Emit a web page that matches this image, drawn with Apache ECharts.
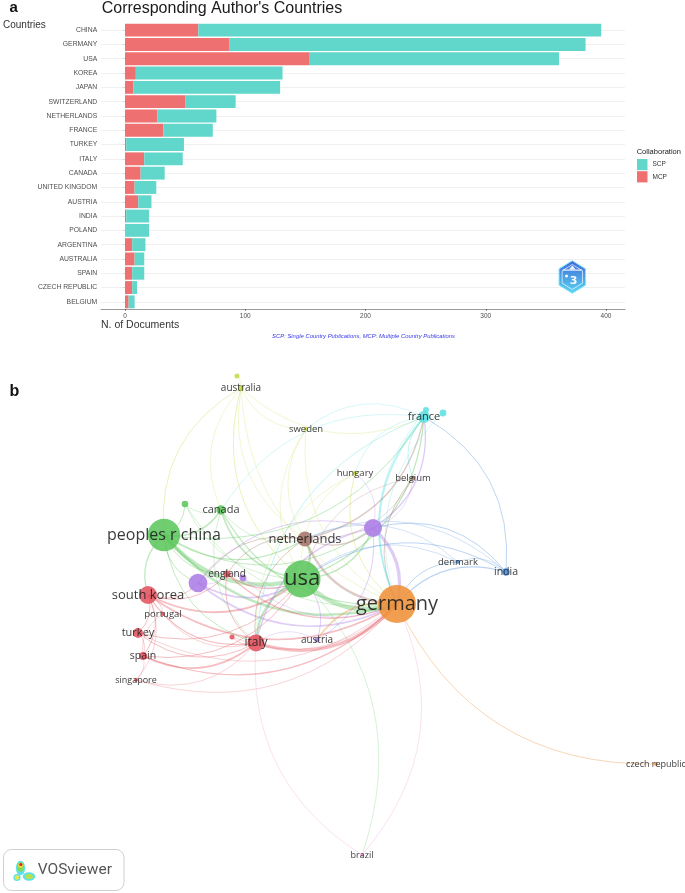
<!DOCTYPE html>
<html>
<head>
<meta charset="utf-8">
<script src="https://cdn.jsdelivr.net/npm/echarts@6.0.0/dist/echarts.min.js"></script>
<style>
html,body{margin:0;padding:0;background:#ffffff;}
#chart{width:685px;height:893px;}
</style>
</head>
<body>
<div id="chart"></div>
<script>
// ---------------- DATA: panel a ----------------
const countries = ['CHINA','GERMANY','USA','KOREA','JAPAN','SWITZERLAND','NETHERLANDS','FRANCE','TURKEY','ITALY','CANADA','UNITED KINGDOM','AUSTRIA','INDIA','POLAND','ARGENTINA','AUSTRALIA','SPAIN','CZECH REPUBLIC','BELGIUM'];
const scpValues = [335,296,208,122,122,42,49,41,48,32,20,18,11,19,20,11,8,10,4,5];
const mcpValues = [61,87,153,9,7,50,27,32,1,16,13,8,11,1,0,6,8,6,6,3];
const xTickValues = [0,100,200,300,400];

// ---------------- DATA: panel b (VOSviewer map) ----------------
const nodeNames = ['germany','usa','peoples r china','south korea','japan','switzerland','netherlands','italy','france','turkey','spain','canada','england','austria','india','denmark','hungary','belgium','sweden','australia','portugal','singapore','czech republic','brazil','poland','scotland','greece','new zealand','luxembourg','argentina'];
const nodeX = [0.67,-0.28,-1.66,-1.82,-1.32,0.43,-0.25,-0.74,0.94,-1.92,-1.87,-1.09,-1.03,-0.13,1.76,1.28,0.25,0.83,-0.24,-0.89,-1.67,-1.94,3.26,0.32,-1.45,-0.87,-0.98,-0.93,0.96,1.13];
const nodeY = [-0.04,0.21,0.65,0.05,0.17,0.72,0.61,-0.43,1.83,-0.33,-0.56,0.90,0.26,-0.40,0.28,0.38,1.27,1.22,1.71,2.12,-0.14,-0.80,-1.64,-2.55,0.96,0.22,-0.37,2.24,1.90,1.87];
const nodeWeight = [400,380,290,90,97,90,62,80,40,28,18,24,14,7,16,5,6,6,4,9,4,4,4,3,12,13,7,7,10,13];
const nodeCluster = [7,2,2,1,5,5,8,1,6,1,1,2,1,5,3,3,4,8,4,4,1,1,7,9,2,5,1,4,6,6];

const linkSource = ['peoples r china','usa','peoples r china','italy','switzerland','france','netherlands','usa','peoples r china','canada','peoples r china','south korea','south korea','japan','japan','usa','usa','usa','england','england','australia','australia','australia','australia','australia','australia','australia','australia','peoples r china','peoples r china','peoples r china','peoples r china','peoples r china','peoples r china','peoples r china','poland','poland','poland','germany','brazil','brazil','usa','germany','austria','austria','austria','spain','spain','spain','south korea','turkey','turkey','turkey','turkey','spain','spain','portugal','portugal','portugal','singapore','singapore','singapore','singapore','south korea','south korea','greece','greece','netherlands','netherlands','netherlands','netherlands','netherlands','netherlands','switzerland','switzerland','switzerland','switzerland','switzerland','india','india','india','india','india','india','denmark','denmark','denmark','france','france','france','france','france','france','france','hungary','hungary','hungary','belgium','belgium','sweden','sweden','sweden','canada','canada','canada','japan','scotland','scotland','scotland','scotland','argentina','luxembourg','england'];
const linkTarget = ['usa','germany','germany','germany','germany','germany','germany','netherlands','canada','usa','south korea','usa','germany','usa','germany','italy','switzerland','france','usa','germany','usa','peoples r china','germany','netherlands','canada','sweden','new zealand','france','netherlands','switzerland','france','italy','england','japan','poland','usa','canada','germany','czech republic','germany','italy','brazil','austria','usa','switzerland','italy','italy','germany','usa','italy','italy','south korea','usa','germany','south korea','turkey','south korea','spain','italy','south korea','spain','italy','germany','japan','england','italy','germany','switzerland','france','england','belgium','japan','italy','france','italy','japan','belgium','hungary','germany','usa','switzerland','france','denmark','netherlands','germany','usa','netherlands','belgium','italy','luxembourg','argentina','hungary','sweden','canada','germany','usa','italy','germany','usa','germany','netherlands','usa','germany','netherlands','italy','england','usa','japan','england','germany','germany','germany','italy'];
const linkStrength = [12,13,7,9,9,5,6,5,4,4,3,5,4,4,4,5,4,3,3,3,2,2,1,1,1,1,1,1,3,2,2,2,2,2,2,1,1,1,2,1,1,1,4,2,2,1,4,3,2,3,2,2,2,1,2,1,1,1,1,1,1,1,1,2,2,1,1,3,3,2,1,2,2,3,3,2,1,1,3,2,2,2,1,1,2,1,1,2,2,1,1,1,1,1,2,1,1,2,1,1,1,1,3,1,1,1,1,1,1,1,1,1,2];

// ---------------- STYLE ----------------
const SCP_COLOR = '#61d6cb';
const MCP_COLOR = '#ef7070';
const clusterColors = {1:'#e2535e',2:'#5cc65c',3:'#4b8fde',4:'#c8da48',5:'#ac7ce6',6:'#5de0e2',7:'#ef9139',8:'#a5756a',9:'#e888cc'};
const hiddenLabels = new Set(['japan','switzerland','poland','scotland','greece','new zealand','luxembourg','argentina']);
const labelSizes = {'germany':20,'usa':22,'peoples r china':16,'south korea':13,'netherlands':13,'italy':12,'turkey':11,'france':11,'canada':11,'spain':10.5,'india':10.5,'england':10,'austria':10,'denmark':9.5,'hungary':9.5,'belgium':9.5,'australia':10,'sweden':9.5,'portugal':9.5,'singapore':9,'czech republic':9,'brazil':9};
const curveOverrides = {'switzerland|germany':0.3, 'brazil|italy':0.3, 'usa|brazil':0.3};

function nodeSize(w){ return 1.9*Math.sqrt(w); }
function colorOf(name){ return clusterColors[nodeCluster[nodeNames.indexOf(name)]]; }

function hexPoints(cx, cy, r, sx){
  const pts = [];
  for (let k=0;k<6;k++){
    const a = (-90 + 60*k) * Math.PI/180;
    pts.push([cx + r*Math.cos(a)*sx, cy + r*Math.sin(a)]);
  }
  return pts;
}

const graphNodes = nodeNames.map((n,i)=>({
  name:n,
  value:[nodeX[i], nodeY[i]],
  symbolSize: nodeSize(nodeWeight[i]),
  itemStyle:{color: clusterColors[nodeCluster[i]]},
  label:{show: !hiddenLabels.has(n), fontSize: labelSizes[n] || 9}
}));
const graphLinks = linkSource.map((s,i)=>{
  const key = s + '|' + linkTarget[i];
  const ls = {width: 0.35 + 0.32*linkStrength[i], color: colorOf(s), opacity:0.38, curveness: (curveOverrides[key] !== undefined ? curveOverrides[key] : -0.32)};
  return {source:s, target:linkTarget[i], lineStyle: ls};
});

const chart = echarts.init(document.getElementById('chart'), null, {renderer:'canvas'});

const txt = (x,y,text,font,fill,align) => ({
  type:'text', x:x, y:y, silent:true, z:10,
  style:{text:text, font:font, fill:fill, textAlign:align||'left', align:align||'left', textVerticalAlign:'middle', verticalAlign:'middle'}
});

const option = {
  animation:false,
  backgroundColor:'#ffffff',
  grid:[
    {left:101.2, top:23, width:523.8, height:286, outerBoundsMode:'none', containLabel:false},
    {left:0, top:340, width:685, height:553, outerBoundsMode:'none', containLabel:false}
  ],
  legend:{
    data:['SCP','MCP'], orient:'vertical', left:637, top:159,
    itemWidth:10.5, itemHeight:11.2, itemGap:1, padding:0, icon:'rect',
    textStyle:{fontSize:6.5, color:'#333', fontFamily:'Liberation Sans'},
    selectedMode:false
  },
  xAxis:[
    {
      type:'value', gridIndex:0, min:-19.8, max:415.8,
      axisLine:{show:true, lineStyle:{color:'#9a9a9a', width:1.2}},
      axisTick:{show:true, length:2, customValues:xTickValues, lineStyle:{color:'#444', width:0.6}},
      axisLabel:{customValues:xTickValues, fontSize:6.5, color:'#4d4d4d', margin:4, fontFamily:'Liberation Sans'},
      splitLine:{show:false}
    },
    {type:'value', gridIndex:1, min:-3.3, max:3.55, show:false}
  ],
  yAxis:[
    {
      type:'category', gridIndex:0, data:countries, inverse:true,
      axisLine:{show:false},
      axisTick:{show:true, length:2.5, alignWithLabel:true, lineStyle:{color:'#444', width:0.6}},
      axisLabel:{fontSize:6.8, color:'#4d4d4d', margin:4, fontFamily:'Liberation Sans'},
      splitLine:{show:false}
    },
    {type:'value', gridIndex:1, min:-2.93, max:2.6, show:false}
  ],
  series:[
    {
      name:'MCP', type:'bar', stack:'total', xAxisIndex:0, yAxisIndex:0,
      data:mcpValues, barWidth:'90%', itemStyle:{color:MCP_COLOR}, silent:true,
      markLine:{
        silent:true, z:1, symbol:['none','none'], label:{show:false},
        lineStyle:{color:'#ececec', width:0.8, type:'solid'},
        data:countries.map(c=>({yAxis:c}))
      }
    },
    {
      name:'SCP', type:'bar', stack:'total', xAxisIndex:0, yAxisIndex:0,
      data:scpValues, barWidth:'90%', itemStyle:{color:SCP_COLOR}, silent:true
    },
    {
      type:'graph', coordinateSystem:'cartesian2d', xAxisIndex:1, yAxisIndex:1,
      layout:'none', symbol:'circle', roam:false, silent:true, z:3,
      data:graphNodes, links:graphLinks,
      itemStyle:{opacity:0.88},
      lineStyle:{curveness:-0.32, opacity:0.38},
      label:{position:'inside', color:'#1c1c1c', fontFamily:'Open Sans'},
      emphasis:{disabled:true}
    }
  ],
  graphic:[
    txt(9.5, 7.5, 'a', 'bold 15px "Liberation Sans"', '#111'),
    txt(101.7, 9, "Corresponding Author's Countries", '16px "Liberation Sans"', '#1a1a1a'),
    txt(3, 25.3, 'Countries', '10px "Liberation Sans"', '#333'),
    txt(101, 325, 'N. of Documents', '10.5px "Liberation Sans"', '#333'),
    txt(636.7, 152.3, 'Collaboration', '7.5px "Liberation Sans"', '#1a1a1a'),
    txt(363.5, 336.7, 'SCP: Single Country Publications, MCP: Multiple Country Publications', 'italic 5.9px "Liberation Sans"', '#3838ee', 'center'),
    txt(9.5, 392, 'b', 'bold 16px "Liberation Sans"', '#111'),
    // bibliometrix hex logo
    {type:'polygon', silent:true, z:10, shape:{points:hexPoints(572.3,277,16.3,0.94)},
     style:{fill:new echarts.graphic.LinearGradient(0,0,0,1,[{offset:0,color:'#3e68d6'},{offset:1,color:'#5ad6f4'}]), stroke:'#86e8fb', lineWidth:1}},
    {type:'polygon', silent:true, z:11, shape:{points:hexPoints(572.3,277,12.5,0.94)},
     style:{fill:'none', stroke:'rgba(255,255,255,0.85)', lineWidth:0.8}},
    {type:'rect', silent:true, z:12, shape:{x:563, y:269.5, width:18.5, height:1.2}, style:{fill:'rgba(255,255,255,0.9)'}},
    {type:'polygon', silent:true, z:12, shape:{points:[[569,269.5],[572.3,265.5],[575.6,269.5]]}, style:{fill:'rgba(255,255,255,0.9)'}},
    txt(573.5, 281, '3', 'bold 11px "DejaVu Sans"', 'rgba(255,255,255,0.95)', 'center'),
    {type:'circle', silent:true, z:12, shape:{cx:566.5, cy:276, r:1.6}, style:{fill:'rgba(255,255,255,0.9)'}},
    // VOSviewer badge
    {type:'rect', silent:true, z:10, shape:{x:3.5, y:849.5, width:120.5, height:41, r:8}, style:{fill:'#ffffff', stroke:'#cfcfcf', lineWidth:1}},
    {type:'circle', silent:true, z:11, x:20.5, y:868, scaleY:1.6, shape:{cx:0, cy:0, r:4.6}, style:{fill:'#5fdfe8'}},
    {type:'circle', silent:true, z:11, x:29, y:876.5, scaleX:1.5, shape:{cx:0, cy:0, r:4.2}, style:{fill:'#5fdfe8'}},
    {type:'circle', silent:true, z:11, x:17, y:877.5, shape:{cx:0, cy:0, r:3.6}, style:{fill:'#5fdfe8'}},
    {type:'circle', silent:true, z:12, x:20.5, y:867, scaleY:1.5, shape:{cx:0, cy:0, r:3.2}, style:{fill:'#86d85a'}},
    {type:'circle', silent:true, z:12, x:29, y:876.5, scaleX:1.5, shape:{cx:0, cy:0, r:2.6}, style:{fill:'#b9e04e'}},
    {type:'circle', silent:true, z:12, x:17, y:877.5, shape:{cx:0, cy:0, r:2.2}, style:{fill:'#e7e64a'}},
    {type:'circle', silent:true, z:13, x:20.5, y:865.5, shape:{cx:0, cy:0, r:2.4}, style:{fill:'#f2d83c'}},
    {type:'circle', silent:true, z:14, x:20.8, y:864.5, shape:{cx:0, cy:0, r:1.5}, style:{fill:'#dd2222'}},
    txt(37.7, 870, 'VOSviewer', '15.5px Roboto', '#555')
  ]
};
chart.setOption(option);
</script>
</body>
</html>
